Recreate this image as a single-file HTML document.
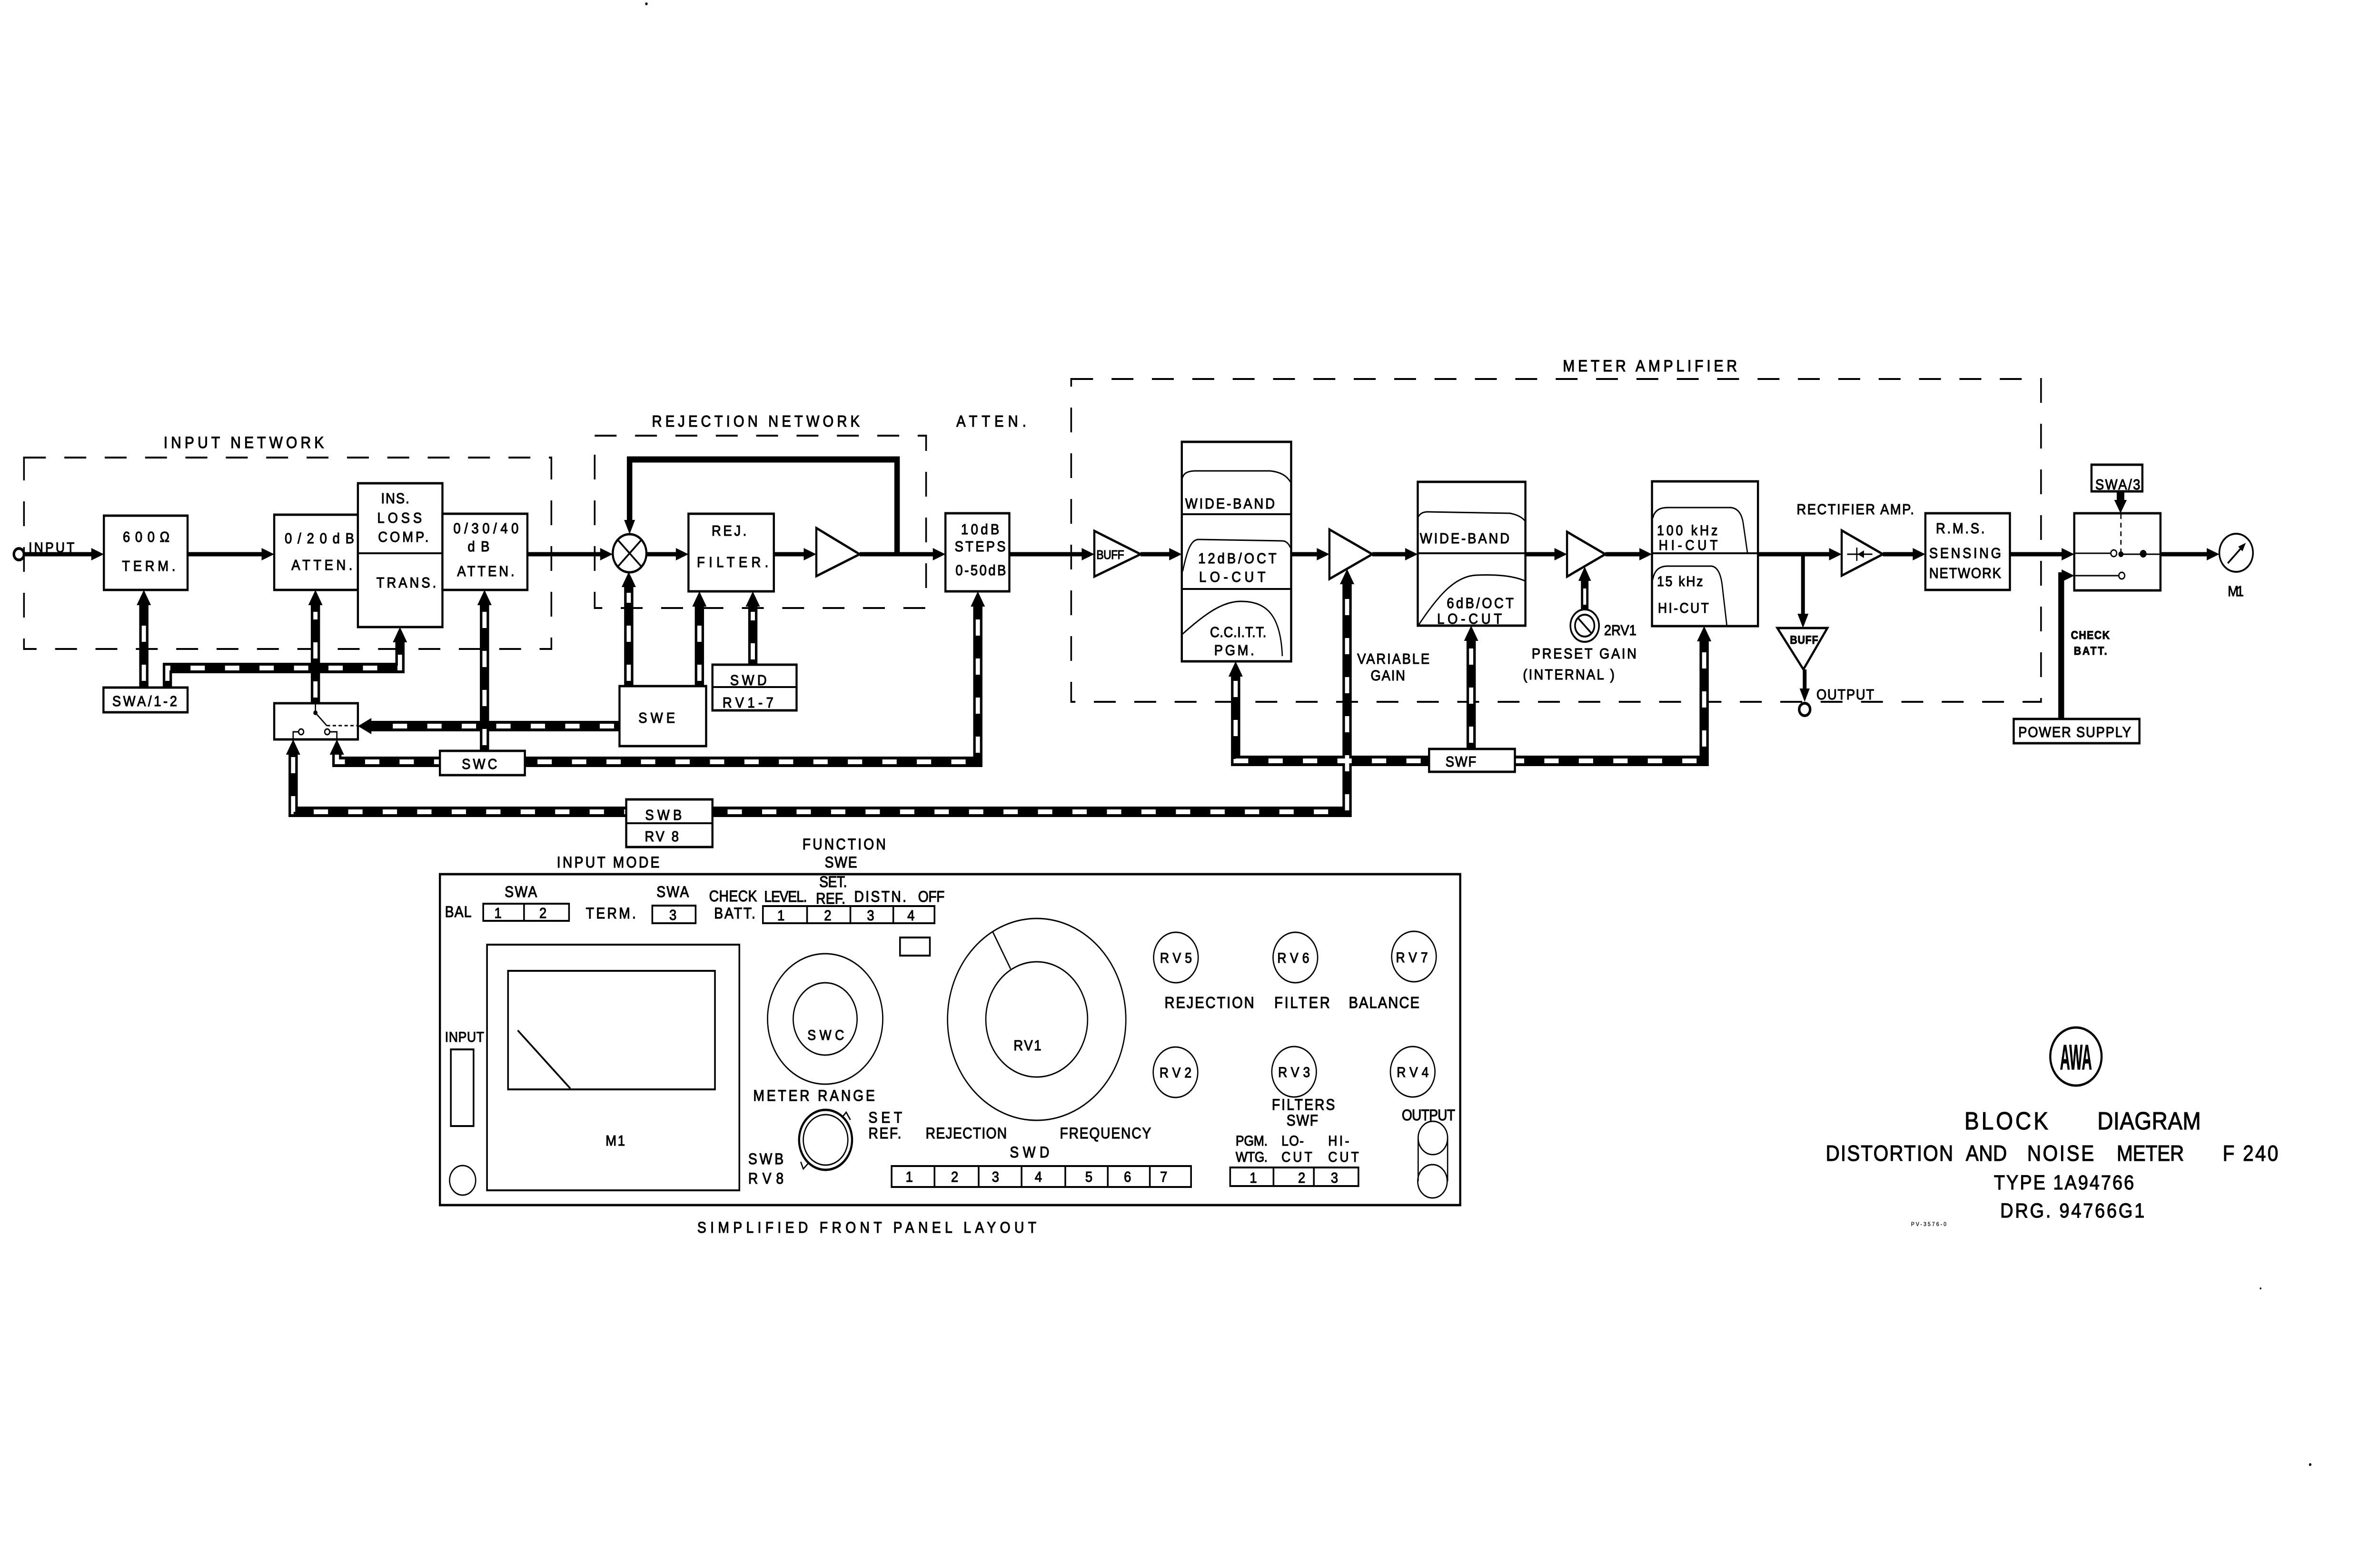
<!DOCTYPE html>
<html>
<head>
<meta charset="utf-8">
<style>
html,body{margin:0;padding:0;background:#fff;overflow:hidden;width:100%;height:100%;}
svg{display:block;position:absolute;left:0;top:0;width:100vw;height:100vh;}
text{font-family:"Liberation Sans",sans-serif;fill:#000;stroke:#000;stroke-width:1.2;font-size:31px;}
.b{fill:#fff;stroke:#000;stroke-width:5;}
.bn{fill:none;stroke:#000;stroke-width:5;}
.dsh{fill:none;stroke:#000;stroke-width:4;stroke-dasharray:52 44;}
.sig{fill:none;stroke:#000;stroke-width:9;}
.cb{fill:none;stroke:#000;stroke-width:22;stroke-linejoin:miter;}
.cw{fill:none;stroke:#fff;stroke-width:10;stroke-dasharray:34 48;}
.th{fill:none;stroke:#000;stroke-width:3;}
.t4{fill:none;stroke:#000;stroke-width:4;}
.k{fill:#000;stroke:none;}
</style>
</head>
<body>
<svg viewBox="0 0 5659 3289" preserveAspectRatio="none" xmlns="http://www.w3.org/2000/svg">
<rect x="0" y="0" width="5659" height="3289" fill="#fff"/>

<!-- dashed group boundaries -->
<rect class="dsh" x="57" y="961" width="1254" height="402"/>
<rect class="dsh" x="1414" y="915" width="788" height="362"/>
<rect class="dsh" x="2547" y="796" width="2306" height="678"/>

<!-- control buses (black) -->
<g class="cb">
<path d="M342,1444 V1268"/>
<path d="M398,1444 V1403 H951 V1346"/>
<path d="M750,1477 V1268"/>
<path d="M1152,1577 V1268"/>
<path d="M801,1585 V1600 H2325 V1271"/>
<path d="M1473,1525 H880"/>
<path d="M697,1582 V1705 H3203 V1224"/>
<path d="M1495,1441 V1230"/>
<path d="M1663,1441 V1271"/>
<path d="M1790,1396 V1271"/>
<path d="M2938,1418 V1598 H4052 V1344"/>
<path d="M3498,1573 V1343"/>
<path d="M3768,1280 V1218" style="stroke-width:18"/>
<path d="M5042,1032 V1052" style="stroke-width:18"/>
</g>
<!-- control buses (white dashes) -->
<g class="cw">
<path d="M342,1430 V1285"/>
<path d="M398,1430 V1403 H951 V1360"/>
<path d="M750,1465 V1285"/>
<path d="M1152,1565 V1285"/>
<path d="M801,1585 V1600 H2325 V1285"/>
<path d="M1460,1525 H895"/>
<path d="M697,1590 V1705 H3203 V1240"/>
<path d="M1495,1430 V1245"/>
<path d="M1663,1430 V1285"/>
<path d="M1790,1385 V1285"/>
<path d="M2938,1430 V1598 H4052 V1360"/>
<path d="M3498,1560 V1360"/>
<path d="M3768,1270 V1230" style="stroke-width:7"/>
</g>
<!-- control arrowheads -->
<g class="k">
<polygon points="342,1239 325,1271 359,1271"/>
<polygon points="951,1317 934,1349 968,1349"/>
<polygon points="750,1239 733,1271 767,1271"/>
<polygon points="1152,1239 1135,1271 1169,1271"/>
<polygon points="801,1553 784,1585 818,1585"/>
<polygon points="2325,1242 2308,1274 2342,1274"/>
<polygon points="697,1553 680,1585 714,1585"/>
<polygon points="3203,1195 3186,1227 3220,1227"/>
<polygon points="1495,1201 1478,1233 1512,1233"/>
<polygon points="1663,1242 1646,1274 1680,1274"/>
<polygon points="1790,1242 1773,1274 1807,1274"/>
<polygon points="2938,1389 2921,1421 2955,1421"/>
<polygon points="4052,1315 4035,1347 4069,1347"/>
<polygon points="3498,1314 3481,1346 3515,1346"/>
<polygon points="3768,1190 3753,1220 3783,1220"/>
<polygon points="851,1525 883,1508 883,1542"/>
<polygon points="5042,1078 5027,1050 5057,1050"/>
</g>

<!-- signal lines -->
<path class="sig" d="M56,1164 H220 M446,1164 H625 M1254,1164 H1430 M1537,1164 H1610 M1840,1164 H1914 M2044,1164 H2221 M2400,1164 H2575 M2712,1164 H2783 M3070,1164 H3134 M3263,1164 H3344 M3627,1164 H3699 M3817,1164 H3901 M4180,1164 H4352 M4477,1164 H4551 M4779,1164 H4905 M5137,1164 H5250"/>
<path d="M2133,1164 V965 H1497 V1095" fill="none" stroke="#000" stroke-width="13"/>
<path class="sig" d="M4287,1164 V1292 M4291,1406 V1448"/>
<path d="M4901,1510 V1209 H4905" fill="none" stroke="#000" stroke-width="14"/>
<g class="k">
<polygon points="247,1164 217,1151 217,1177"/>
<polygon points="652,1164 622,1151 622,1177"/>
<polygon points="1457,1164 1427,1151 1427,1177"/>
<polygon points="1637,1164 1607,1151 1607,1177"/>
<polygon points="1941,1164 1911,1151 1911,1177"/>
<polygon points="2248,1164 2218,1151 2218,1177"/>
<polygon points="2602,1164 2572,1151 2572,1177"/>
<polygon points="2810,1164 2780,1151 2780,1177"/>
<polygon points="3161,1164 3131,1151 3131,1177"/>
<polygon points="3371,1164 3341,1151 3341,1177"/>
<polygon points="3726,1164 3696,1151 3696,1177"/>
<polygon points="3928,1164 3898,1151 3898,1177"/>
<polygon points="4379,1164 4349,1151 4349,1177"/>
<polygon points="4578,1164 4548,1151 4548,1177"/>
<polygon points="4932,1164 4902,1151 4902,1177"/>
<polygon points="5277,1164 5247,1151 5247,1177"/>
<polygon points="4932,1209 4902,1196 4902,1222"/>
<polygon points="1497,1122 1484,1092 1510,1092"/>
<polygon points="4287,1319 4274,1289 4300,1289"/>
<polygon points="4291,1474 4279,1446 4303,1446"/>
</g>
<circle cx="45" cy="1164" r="12" fill="#fff" stroke="#000" stroke-width="6"/>
<circle cx="4291" cy="1490" r="13" fill="#fff" stroke="#000" stroke-width="6"/>

<!-- INPUT NETWORK boxes -->
<rect class="b" x="247" y="1083" width="199" height="156"/>
<rect class="b" x="652" y="1081" width="199" height="158"/>
<rect class="b" x="851" y="1015" width="201" height="302"/>
<line class="t4" x1="851" y1="1162" x2="1052" y2="1162"/>
<rect class="b" x="1052" y="1079" width="202" height="160"/>
<rect class="b" x="246" y="1444" width="200" height="52"/>
<rect class="b" x="652" y="1477" width="199" height="76"/>
<rect class="b" x="1046" y="1577" width="202" height="51"/>
<!-- switch internals -->
<line class="th" x1="750" y1="1477" x2="750" y2="1497"/>
<circle cx="750" cy="1497" r="5" class="k"/>
<line class="th" x1="750" y1="1497" x2="777" y2="1524"/>
<line x1="777" y1="1524" x2="851" y2="1524" stroke="#000" stroke-width="3" stroke-dasharray="8 6"/>
<circle cx="716" cy="1537" r="6" fill="#fff" stroke="#000" stroke-width="3"/>
<circle cx="778" cy="1537" r="6" fill="#fff" stroke="#000" stroke-width="3"/>
<path class="th" d="M710,1537 H697 V1553 M784,1537 H801 V1553"/>

<!-- REJECTION NETWORK -->
<circle cx="1497" cy="1162" r="40" fill="#fff" stroke="#000" stroke-width="5"/>
<path class="t4" d="M1469,1134 L1525,1190 M1525,1134 L1469,1190"/>
<rect class="b" x="1637" y="1079" width="203" height="163"/>
<polygon class="b" points="1941,1109 2044,1164 1941,1210"/>
<rect class="b" x="2248" y="1078" width="152" height="164"/>
<rect class="b" x="1473" y="1441" width="206" height="126"/>
<rect class="b" x="1694" y="1396" width="200" height="96"/>
<line class="t4" x1="1694" y1="1443" x2="1894" y2="1443"/>
<rect class="b" x="1489" y="1679" width="205" height="100"/>
<line class="t4" x1="1489" y1="1729" x2="1694" y2="1729"/>

<!-- METER AMPLIFIER -->
<polygon class="b" points="2602,1115 2712,1164 2602,1211"/>
<rect class="b" x="2810" y="928" width="260" height="461"/>
<line class="t4" x1="2810" y1="1080" x2="3070" y2="1080"/>
<line class="t4" x1="2810" y1="1237" x2="3070" y2="1237"/>
<path class="th" d="M2812,1003 Q2815,990 2840,989 L3020,989 Q3055,992 3068,1012"/>
<path class="th" d="M2812,1200 C2822,1160 2830,1133 2850,1133 L3050,1136 Q3062,1137 3068,1150"/>
<path class="th" d="M2810,1333 C2870,1285 2910,1263 2950,1263 C3010,1263 3045,1290 3049,1378"/>
<polygon class="b" points="3161,1112 3263,1164 3161,1216"/>
<rect class="b" x="3371" y="1012" width="256" height="302"/>
<line class="t4" x1="3371" y1="1162" x2="3627" y2="1162"/>
<path class="th" d="M3372,1086 Q3378,1075 3395,1075 L3590,1078 Q3615,1082 3626,1094"/>
<path class="th" d="M3372,1314 C3420,1250 3460,1210 3510,1208 C3560,1206 3600,1210 3626,1220"/>
<polygon class="b" points="3726,1117 3817,1164 3726,1211"/>
<circle cx="3768" cy="1314" r="34" fill="#fff" stroke="#000" stroke-width="4"/>
<circle cx="3768" cy="1314" r="23" fill="none" stroke="#000" stroke-width="4"/>
<line class="t4" x1="3752" y1="1298" x2="3784" y2="1330"/>
<rect class="b" x="3928" y="1011" width="252" height="304"/>
<line class="t4" x1="3928" y1="1162" x2="4180" y2="1162"/>
<path class="th" d="M3930,1088 Q3935,1066 3965,1066 L4115,1066 Q4140,1068 4145,1100 L4155,1161"/>
<path class="th" d="M3930,1217 Q3935,1189 3965,1189 L4070,1189 Q4090,1192 4095,1230 L4106,1314"/>
<polygon class="b" points="4226,1319 4345,1319 4288,1406"/>
<polygon class="b" points="4379,1114 4477,1164 4379,1209"/>
<path class="th" d="M4392,1164 H4452 M4415,1150 V1178"/>
<polygon class="k" points="4417,1164 4432,1156 4432,1172"/>
<rect class="b" x="4578" y="1078" width="201" height="161"/>

<!-- output switch -->
<rect class="b" x="4932" y="1078" width="205" height="162"/>
<rect class="b" x="4973" y="976" width="121" height="56"/>
<line x1="5043" y1="1080" x2="5043" y2="1160" stroke="#000" stroke-width="3" stroke-dasharray="10 8"/>
<path class="th" d="M4932,1162 H5020 M5043,1164 H5137 M4932,1209 H5038"/>
<circle cx="5026" cy="1162" r="7" fill="#fff" stroke="#000" stroke-width="3"/>
<circle cx="5043" cy="1164" r="6" class="k"/>
<circle cx="5096" cy="1163" r="8" class="k"/>
<circle cx="5045" cy="1209" r="7" fill="#fff" stroke="#000" stroke-width="3"/>
<rect class="b" x="4788" y="1510" width="299" height="51"/>
<circle cx="5317" cy="1161" r="40" fill="#fff" stroke="#000" stroke-width="4"/>
<line class="t4" x1="5297" y1="1183" x2="5330" y2="1150"/>
<polygon class="k" points="5340,1140 5322,1148 5332,1158"/>

<!-- labels diagram -->
<text x="389" y="941" textLength="381" style="font-size:34px">INPUT NETWORK</text>
<text x="68" y="1160" textLength="109" style="font-size:30px">INPUT</text>
<text x="292" y="1138" textLength="111">600Ω</text>
<text x="290" y="1199" textLength="127">TERM.</text>
<text x="677" y="1141" textLength="165">0/20dB</text>
<text x="693" y="1197" textLength="145">ATTEN.</text>
<text x="906" y="1057" textLength="67">INS.</text>
<text x="897" y="1098" textLength="106">LOSS</text>
<text x="899" y="1138" textLength="120">COMP.</text>
<text x="895" y="1234" textLength="142">TRANS.</text>
<text x="1078" y="1120" textLength="155">0/30/40</text>
<text x="1112" y="1158" textLength="52">dB</text>
<text x="1087" y="1210" textLength="136">ATTEN.</text>
<text x="267" y="1483" textLength="154">SWA/1-2</text>
<text x="1098" y="1615" textLength="84">SWC</text>

<text x="1550" y="896" textLength="494" style="font-size:33px">REJECTION NETWORK</text>
<text x="2274" y="896" textLength="166" style="font-size:33px">ATTEN.</text>
<text x="1692" y="1125" textLength="83">REJ.</text>
<text x="1657" y="1191" textLength="170">FILTER.</text>
<text x="2285" y="1122" textLength="91">10dB</text>
<text x="2270" y="1158" textLength="121">STEPS</text>
<text x="2272" y="1208" textLength="120">0-50dB</text>
<text x="1518" y="1518" textLength="87">SWE</text>
<text x="1736" y="1439" textLength="87">SWD</text>
<text x="1718" y="1486" textLength="121">RV1-7</text>
<text x="1534" y="1722" textLength="87">SWB</text>
<text x="1533" y="1767" textLength="81">RV 8</text>

<text x="3716" y="780" textLength="414" style="font-size:34px">METER AMPLIFIER</text>
<text x="2607" y="1174" textLength="66" style="font-size:26px">BUFF</text>
<text x="2818" y="1068" textLength="213">WIDE-BAND</text>
<text x="2849" y="1183" textLength="186">12dB/OCT</text>
<text x="2851" y="1222" textLength="158">LO-CUT</text>
<text x="2877" y="1338" textLength="134">C.C.I.T.T.</text>
<text x="2887" y="1376" textLength="95">PGM.</text>
<text x="3227" y="1394" textLength="172">VARIABLE</text>
<text x="3259" y="1429" textLength="82">GAIN</text>
<text x="3376" y="1141" textLength="213">WIDE-BAND</text>
<text x="3440" y="1277" textLength="159">6dB/OCT</text>
<text x="3417" y="1310" textLength="154">LO-CUT</text>
<text x="3814" y="1334" textLength="77">2RV1</text>
<text x="3642" y="1383" textLength="249">PRESET GAIN</text>
<text x="3621" y="1427" textLength="218">(INTERNAL )</text>
<text x="3940" y="1124" textLength="144" style="font-size:30px">100 kHz</text>
<text x="3944" y="1155" textLength="140" style="font-size:30px">HI-CUT</text>
<text x="3940" y="1231" textLength="109" style="font-size:30px">15 kHz</text>
<text x="3942" y="1287" textLength="121" style="font-size:30px">HI-CUT</text>
<text x="4272" y="1080" textLength="279">RECTIFIER AMP.</text>
<text x="4256" y="1352" textLength="67" style="font-size:24px;font-weight:bold">BUFF</text>
<text x="4319" y="1469" textLength="137">OUTPUT</text>
<text x="4603" y="1120" textLength="116">R.M.S.</text>
<text x="4587" y="1172" textLength="171">SENSING</text>
<text x="4587" y="1214" textLength="171">NETWORK</text>
<text x="4982" y="1028" textLength="107">SWA/3</text>
<text x="4924" y="1342" textLength="92" style="font-size:24px;font-weight:bold">CHECK</text>
<text x="4931" y="1375" textLength="79" style="font-size:24px;font-weight:bold">BATT.</text>
<text x="4799" y="1548" textLength="268">POWER SUPPLY</text>
<text x="5297" y="1252" textLength="38">M1</text>
<rect class="b" x="3398" y="1573" width="204" height="48"/>
<text x="3437" y="1610" textLength="73">SWF</text>

<!-- FRONT PANEL -->
<rect class="bn" x="1046" y="1836" width="2426" height="695"/>
<text x="1324" y="1822" textLength="244" style="font-size:32px">INPUT MODE</text>
<text x="1908" y="1784" textLength="198" style="font-size:32px">FUNCTION</text>
<text x="1961" y="1822" textLength="77" style="font-size:32px">SWE</text>
<text x="1200" y="1884" textLength="77" style="font-size:32px">SWA</text>
<text x="1058" y="1926" textLength="63" style="font-size:32px">BAL</text>
<rect class="bn" x="1149" y="1898" width="204" height="36" style="stroke-width:4"/>
<line class="t4" x1="1246" y1="1898" x2="1246" y2="1934"/>
<text x="1184" y="1928" text-anchor="middle">1</text>
<text x="1291" y="1928" text-anchor="middle">2</text>
<text x="1393" y="1929" textLength="119" style="font-size:32px">TERM.</text>
<text x="1561" y="1884" textLength="77" style="font-size:32px">SWA</text>
<rect class="bn" x="1551" y="1902" width="103" height="37" style="stroke-width:4"/>
<text x="1600" y="1932" text-anchor="middle">3</text>
<text x="1686" y="1893" textLength="114" style="font-size:32px">CHECK</text>
<text x="1698" y="1929" textLength="98" style="font-size:32px">BATT.</text>
<text x="1817" y="1894" textLength="102" style="font-size:32px">LEVEL.</text>
<text x="1948" y="1863" textLength="66" style="font-size:32px">SET.</text>
<text x="1940" y="1898" textLength="70" style="font-size:32px">REF.</text>
<text x="2031" y="1894" textLength="124" style="font-size:32px">DISTN.</text>
<text x="2183" y="1894" textLength="63" style="font-size:32px">OFF</text>
<rect class="bn" x="1814" y="1903" width="408" height="36" style="stroke-width:4"/>
<path class="t4" d="M1919,1903 V1939 M2022,1903 V1939 M2124,1903 V1939"/>
<text x="1857" y="1933" text-anchor="middle">1</text>
<text x="1968" y="1933" text-anchor="middle">2</text>
<text x="2070" y="1933" text-anchor="middle">3</text>
<text x="2166" y="1933" text-anchor="middle">4</text>
<rect class="bn" x="2140" y="1969" width="71" height="38" style="stroke-width:4"/>

<rect class="bn" x="1158" y="1984" width="600" height="516" style="stroke-width:4"/>
<rect class="bn" x="1208" y="2039" width="492" height="249" style="stroke-width:4"/>
<line class="t4" x1="1231" y1="2164" x2="1356" y2="2286"/>
<text x="1463" y="2406" text-anchor="middle" textLength="46">M1</text>
<text x="1058" y="2188" textLength="93" style="font-size:30px">INPUT</text>
<rect class="bn" x="1072" y="2204" width="54" height="161" style="stroke-width:4"/>
<circle cx="1100" cy="2479" r="31" class="th"/>

<circle cx="1962" cy="2140" r="137" class="th"/>
<circle cx="1962" cy="2140" r="76" class="th"/>
<text x="1920" y="2184" textLength="87" style="font-size:30px">SWC</text>
<text x="1791" y="2312" textLength="289" style="font-size:32px">METER RANGE</text>
<circle cx="1963" cy="2394" r="63" fill="none" stroke="#000" stroke-width="5"/>
<circle cx="1963" cy="2394" r="53" class="th"/>
<path class="th" d="M2003,2346 L2012,2336 L2022,2352 M1923,2442 L1910,2455 L1904,2440"/>
<text x="1779" y="2445" textLength="84" style="font-size:32px">SWB</text>
<text x="1779" y="2486" textLength="84" style="font-size:32px">RV8</text>
<text x="2065" y="2358" textLength="80" style="font-size:32px">SET</text>
<text x="2065" y="2391" textLength="78" style="font-size:32px">REF.</text>

<circle cx="2465" cy="2141" r="212" class="th"/>
<circle cx="2465" cy="2141" r="121" class="th"/>
<line class="th" x1="2361" y1="1958" x2="2403" y2="2035"/>
<text x="2443" y="2206" text-anchor="middle" textLength="66">RV1</text>
<text x="2201" y="2391" textLength="193" style="font-size:32px">REJECTION</text>
<text x="2520" y="2391" textLength="217" style="font-size:32px">FREQUENCY</text>
<text x="2401" y="2431" textLength="94" style="font-size:32px">SWD</text>
<rect class="bn" x="2120" y="2449" width="712" height="44" style="stroke-width:4"/>
<path class="t4" d="M2222,2449 V2493 M2327,2449 V2493 M2429,2449 V2493 M2533,2449 V2493 M2634,2449 V2493 M2734,2449 V2493"/>
<text x="2162" y="2482" text-anchor="middle">1</text>
<text x="2270" y="2482" text-anchor="middle">2</text>
<text x="2367" y="2482" text-anchor="middle">3</text>
<text x="2469" y="2482" text-anchor="middle">4</text>
<text x="2589" y="2482" text-anchor="middle">5</text>
<text x="2681" y="2482" text-anchor="middle">6</text>
<text x="2767" y="2482" text-anchor="middle">7</text>

<circle cx="2796" cy="2011" r="53" class="th"/>
<circle cx="3080" cy="2011" r="53" class="th"/>
<circle cx="3362" cy="2009" r="53" class="th"/>
<circle cx="2795" cy="2252" r="53" class="th"/>
<circle cx="3077" cy="2251" r="53" class="th"/>
<circle cx="3359" cy="2251" r="53" class="th"/>
<text x="2796" y="2022" text-anchor="middle" textLength="76" style="font-size:30px">RV5</text>
<text x="3075" y="2022" text-anchor="middle" textLength="76" style="font-size:30px">RV6</text>
<text x="3357" y="2021" text-anchor="middle" textLength="76" style="font-size:30px">RV7</text>
<text x="2795" y="2263" text-anchor="middle" textLength="76" style="font-size:30px">RV2</text>
<text x="3077" y="2262" text-anchor="middle" textLength="76" style="font-size:30px">RV3</text>
<text x="3359" y="2262" text-anchor="middle" textLength="76" style="font-size:30px">RV4</text>
<text x="2769" y="2117" textLength="213" style="font-size:33px">REJECTION</text>
<text x="3030" y="2117" textLength="132" style="font-size:33px">FILTER</text>
<text x="3207" y="2117" textLength="168" style="font-size:33px">BALANCE</text>
<text x="3024" y="2331" textLength="150" style="font-size:32px">FILTERS</text>
<text x="3059" y="2364" textLength="75" style="font-size:32px">SWF</text>
<text x="2938" y="2406" textLength="76" style="font-size:30px">PGM.</text>
<text x="2938" y="2440" textLength="76" style="font-size:30px">WTG.</text>
<text x="3047" y="2406" textLength="53" style="font-size:30px">LO-</text>
<text x="3047" y="2440" textLength="73" style="font-size:30px">CUT</text>
<text x="3158" y="2406" textLength="50" style="font-size:30px">HI-</text>
<text x="3158" y="2440" textLength="73" style="font-size:30px">CUT</text>
<rect class="bn" x="2925" y="2452" width="305" height="39" style="stroke-width:4"/>
<path class="t4" d="M3028,2452 V2491 M3124,2452 V2491"/>
<text x="2980" y="2484" text-anchor="middle">1</text>
<text x="3095" y="2484" text-anchor="middle">2</text>
<text x="3173" y="2484" text-anchor="middle">3</text>
<text x="3333" y="2353" textLength="127" style="font-size:32px">OUTPUT</text>
<circle cx="3407" cy="2390" r="35" class="th"/>
<circle cx="3406" cy="2481" r="35" class="th"/>
<path class="th" d="M3372,2390 V2481 M3442,2390 V2481"/>
<text x="1658" y="2589" textLength="806" style="font-size:32px">SIMPLIFIED   FRONT   PANEL   LAYOUT</text>

<!-- TITLE BLOCK -->
<circle cx="4936" cy="2219" r="61" fill="none" stroke="#000" stroke-width="5"/>
<text x="4936" y="2246" text-anchor="middle" textLength="76" lengthAdjust="spacingAndGlyphs" style="font-size:74px;font-weight:bold">AWA</text>
<text x="4671" y="2372" textLength="199" style="font-size:52px">BLOCK</text>
<text x="4987" y="2372" textLength="246" style="font-size:52px">DIAGRAM</text>
<text x="4341" y="2438" textLength="303" style="font-size:46px">DISTORTION</text>
<text x="4674" y="2438" textLength="98" style="font-size:46px">AND</text>
<text x="4820" y="2438" textLength="159" style="font-size:46px">NOISE</text>
<text x="5033" y="2438" textLength="160" style="font-size:46px">METER</text>
<text x="5285" y="2438" textLength="132" style="font-size:46px">F 240</text>
<text x="4741" y="2498" textLength="333" style="font-size:43px">TYPE 1A94766</text>
<text x="4756" y="2557" textLength="343" style="font-size:43px">DRG. 94766G1</text>
<text x="4544" y="2575" textLength="84" style="font-size:12px;stroke-width:0.3">PV-3576-0</text>

<!-- specks -->
<circle cx="1537" cy="8" r="3" class="k"/>
<circle cx="5375" cy="2706" r="2" class="k"/>
<circle cx="5493" cy="3076" r="3" class="k"/>
</svg>
</body>
</html>
